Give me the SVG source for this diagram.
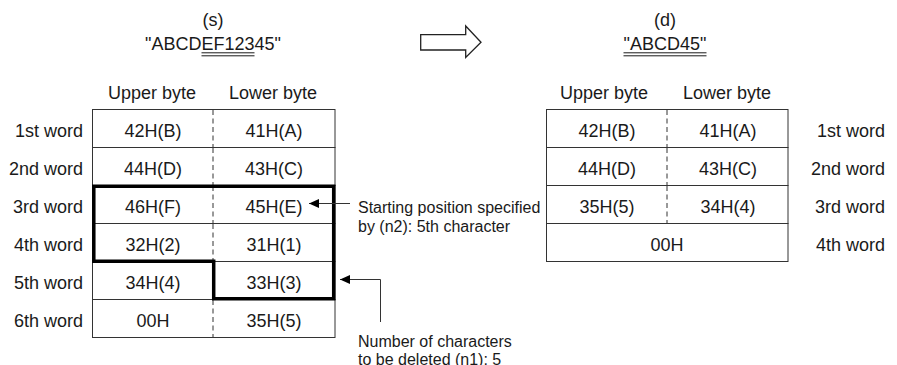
<svg xmlns="http://www.w3.org/2000/svg" width="897" height="365" viewBox="0 0 897 365">
<style>
text{font-family:"Liberation Sans",Arial,sans-serif;fill:#1a1a1a}
.t{font-size:18px}
.a{font-size:16px}
.m{text-anchor:middle}
.e{text-anchor:end}
.cell{fill:#fff;stroke:#333;stroke-width:1}
.dash{stroke:#333;stroke-width:1;stroke-dasharray:5 3.5;fill:none}
.thick{fill:none;stroke:#000;stroke-width:3.5;stroke-linejoin:miter}
.ln{fill:none;stroke:#333;stroke-width:1}
.ul{stroke:#1a1a1a;stroke-width:1}
</style>
<defs>
<marker id="ah" viewBox="0 0 10 10" refX="10" refY="5" markerWidth="10" markerHeight="10" markerUnits="userSpaceOnUse" orient="auto">
<path d="M0,0.5 L10,5 L0,9.5 Z" fill="#000"/>
</marker>
</defs>

<g id="title-s">
<text class="t m" x="213" y="26">(s)</text>
<text class="t m" x="213" y="50">"ABCDEF12345"</text>
<line class="ul" x1="201.5" y1="52.8" x2="254.5" y2="52.8"/>
<line class="ul" x1="201.5" y1="55.8" x2="254.5" y2="55.8"/>
</g>

<g id="title-d">
<text class="t m" x="665" y="26">(d)</text>
<text class="t m" x="665" y="50">"ABCD45"</text>
<line class="ul" x1="623.5" y1="52.8" x2="706.5" y2="52.8"/>
<line class="ul" x1="623.5" y1="55.8" x2="706.5" y2="55.8"/>
</g>

<g id="transform-arrow">
<polygon points="420.7,34.7 465.7,34.7 465.7,26 481,42.3 465.7,57.5 465.7,50 420.7,50" fill="#fff" stroke="#222" stroke-width="1.3"/>
</g>

<g id="src-headers">
<text class="t m" x="152" y="99">Upper byte</text>
<text class="t m" x="273" y="99">Lower byte</text>
</g>
<g id="src-labels">
<text class="t e" x="83" y="136.5">1st word</text>
<text class="t e" x="83" y="174.5">2nd word</text>
<text class="t e" x="83" y="212.5">3rd word</text>
<text class="t e" x="83" y="250.5">4th word</text>
<text class="t e" x="83" y="288.5">5th word</text>
<text class="t e" x="83" y="326.5">6th word</text>
</g>

<g id="src-word1">
<rect class="cell" x="92.5" y="109.5" width="242.5" height="38"/>
<line class="dash" x1="213" y1="110" x2="213" y2="147"/>
<text class="t m" x="153" y="136.5">42H(B)</text>
<text class="t m" x="274" y="136.5">41H(A)</text>
</g>
<g id="src-word2">
<rect class="cell" x="92.5" y="147.5" width="242.5" height="38"/>
<line class="dash" x1="213" y1="148" x2="213" y2="185"/>
<text class="t m" x="153" y="174.5">44H(D)</text>
<text class="t m" x="274" y="174.5">43H(C)</text>
</g>
<g id="src-word3">
<rect class="cell" x="92.5" y="185.5" width="242.5" height="38"/>
<line class="dash" x1="213" y1="186" x2="213" y2="223"/>
<text class="t m" x="153" y="212.5">46H(F)</text>
<text class="t m" x="274" y="212.5">45H(E)</text>
</g>
<g id="src-word4">
<rect class="cell" x="92.5" y="223.5" width="242.5" height="38"/>
<line class="dash" x1="213" y1="224" x2="213" y2="261"/>
<text class="t m" x="153" y="250.5">32H(2)</text>
<text class="t m" x="274" y="250.5">31H(1)</text>
</g>
<g id="src-word5">
<rect class="cell" x="92.5" y="261.5" width="242.5" height="38"/>
<text class="t m" x="153" y="288.5">34H(4)</text>
<text class="t m" x="274" y="288.5">33H(3)</text>
</g>
<g id="src-word6">
<rect class="cell" x="92.5" y="299.5" width="242.5" height="38"/>
<line class="dash" x1="213" y1="300" x2="213" y2="337"/>
<text class="t m" x="153" y="326.5">00H</text>
<text class="t m" x="274" y="326.5">35H(5)</text>
</g>

<g id="deleted-range">
<path class="thick" d="M93.8,186.2 H333.7 V298.7 H213.7 V261.2 H93.8 Z"/>
</g>

<g id="dst-headers">
<text class="t m" x="604" y="99">Upper byte</text>
<text class="t m" x="727" y="99">Lower byte</text>
</g>
<g id="dst-word1">
<rect class="cell" x="546.5" y="109.5" width="241.5" height="38"/>
<line class="dash" x1="667" y1="110" x2="667" y2="147"/>
<text class="t m" x="607" y="136.5">42H(B)</text>
<text class="t m" x="728" y="136.5">41H(A)</text>
</g>
<g id="dst-word2">
<rect class="cell" x="546.5" y="147.5" width="241.5" height="38"/>
<line class="dash" x1="667" y1="148" x2="667" y2="185"/>
<text class="t m" x="607" y="174.5">44H(D)</text>
<text class="t m" x="728" y="174.5">43H(C)</text>
</g>
<g id="dst-word3">
<rect class="cell" x="546.5" y="185.5" width="241.5" height="38"/>
<line class="dash" x1="667" y1="186" x2="667" y2="223"/>
<text class="t m" x="607" y="212.5">35H(5)</text>
<text class="t m" x="728" y="212.5">34H(4)</text>
</g>
<g id="dst-word4">
<rect class="cell" x="546.5" y="223.5" width="241.5" height="38"/>
<text class="t m" x="667" y="250.5">00H</text>
</g>
<g id="dst-labels">
<text class="t e" x="885" y="136.5">1st word</text>
<text class="t e" x="885" y="174.5">2nd word</text>
<text class="t e" x="885" y="212.5">3rd word</text>
<text class="t e" x="885" y="250.5">4th word</text>
</g>

<g id="note-start">
<text class="a" x="358" y="213.3">Starting position specified</text>
<text class="a" x="358" y="232.3">by (n2): 5th character</text>
</g>
<g id="note-count">
<text class="a" x="358" y="346.7">Number of characters</text>
<text class="a" x="358" y="364.5">to be deleted (n1): 5</text>
</g>

<g id="connectors">
<path class="ln" d="M350,203.5 H309" marker-end="url(#ah)"/>
<path class="ln" d="M380.5,322 V279.5 H340" marker-end="url(#ah)"/>
</g>
</svg>
